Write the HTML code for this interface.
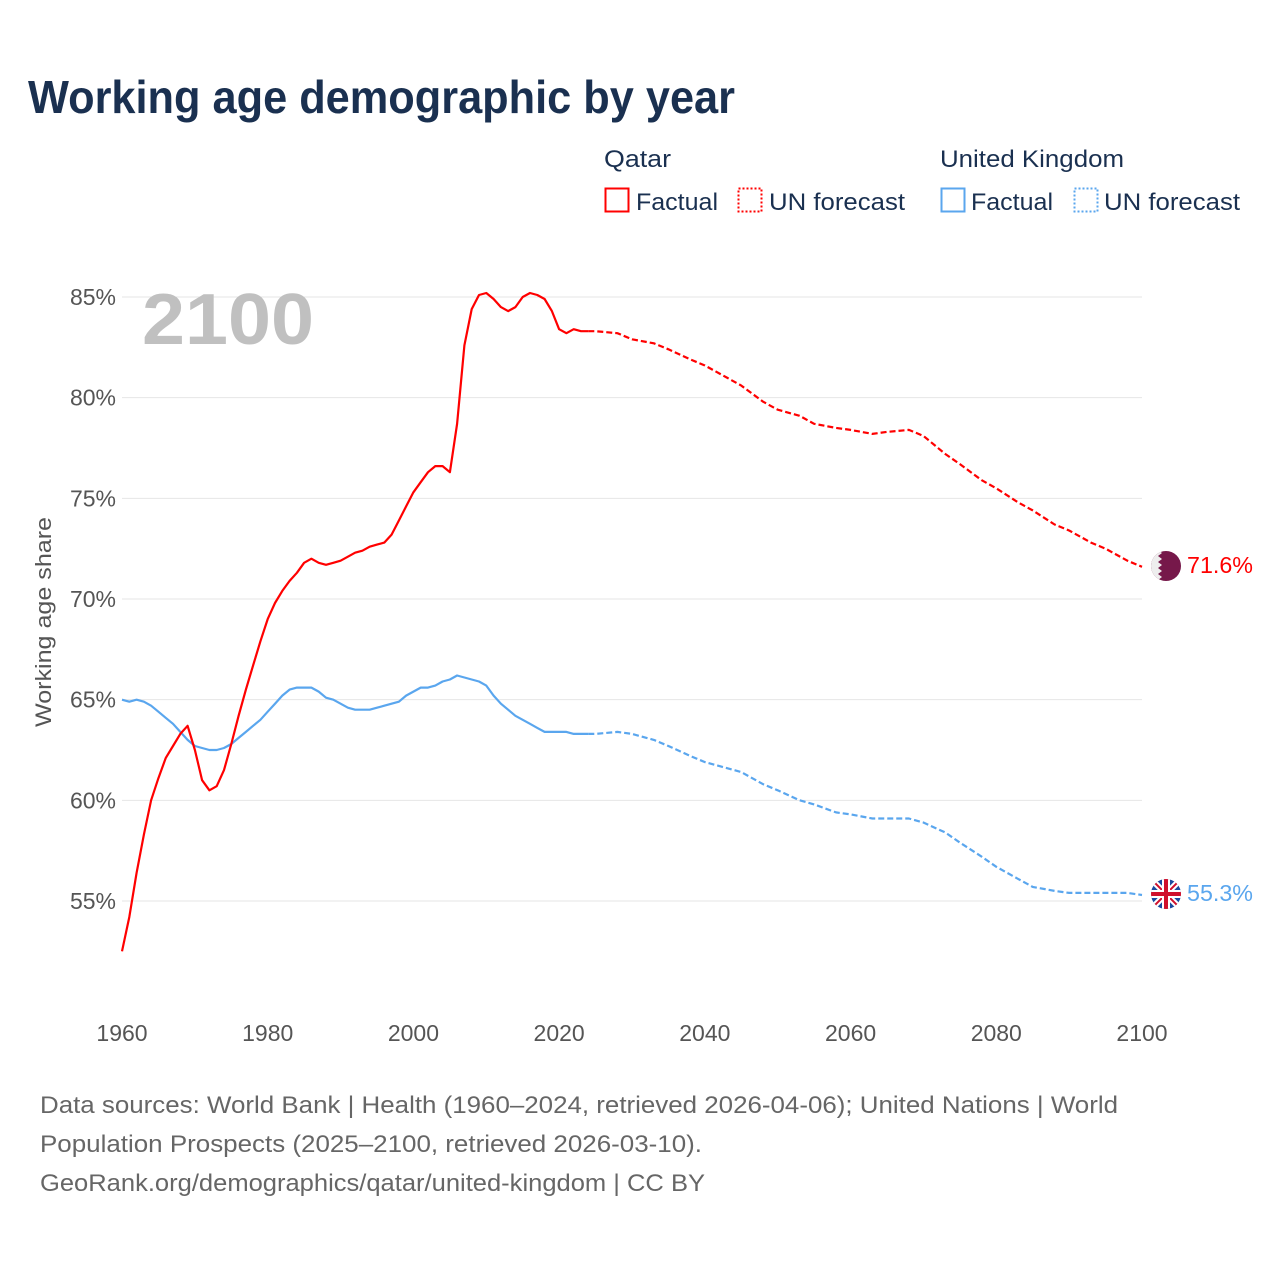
<!DOCTYPE html>
<html><head><meta charset="utf-8">
<style>
html,body{margin:0;padding:0;background:#fff;}
svg{display:block;font-family:"Liberation Sans",sans-serif;}
</style></head>
<body>
<svg id="chart" width="1280" height="1280" viewBox="0 0 1280 1280" xmlns="http://www.w3.org/2000/svg">
<text x="28" y="113" font-size="46" font-weight="bold" fill="#1a3050" textLength="707" lengthAdjust="spacingAndGlyphs">Working age demographic by year</text>
<g font-size="24" fill="#1a3050">
<text x="604" y="167" textLength="67" lengthAdjust="spacingAndGlyphs">Qatar</text>
<text x="940" y="167" textLength="184" lengthAdjust="spacingAndGlyphs">United Kingdom</text>
<g><rect x="605.5" y="188.5" width="23" height="23" fill="none" stroke="#ff0000" stroke-width="2"/><text x="636" y="210" textLength="82" lengthAdjust="spacingAndGlyphs">Factual</text></g>
<g><rect x="738.5" y="188.5" width="23" height="23" fill="none" stroke="#ff0000" stroke-width="2" stroke-dasharray="2,2"/><text x="769" y="210" textLength="136" lengthAdjust="spacingAndGlyphs">UN forecast</text></g>
<g><rect x="941.5" y="188.5" width="23" height="23" fill="none" stroke="#5aa6ee" stroke-width="2"/><text x="971" y="210" textLength="82" lengthAdjust="spacingAndGlyphs">Factual</text></g>
<g><rect x="1074.5" y="188.5" width="23" height="23" fill="none" stroke="#5aa6ee" stroke-width="2" stroke-dasharray="2,2"/><text x="1104" y="210" textLength="136" lengthAdjust="spacingAndGlyphs">UN forecast</text></g>
</g>
<g id="grid"></g>
<g id="yticks" font-size="23" fill="#555" text-anchor="end"></g>
<g id="xticks" font-size="23" fill="#555" text-anchor="middle"></g>
<text x="142" y="344" font-size="72" font-weight="bold" fill="#c0c0c0" textLength="172" lengthAdjust="spacingAndGlyphs">2100</text>
<text transform="translate(51,622) rotate(-90)" text-anchor="middle" font-size="22" fill="#555" textLength="210" lengthAdjust="spacingAndGlyphs">Working age share</text>
<g id="series"></g>
<g>
<clipPath id="cq"><circle cx="1166" cy="566" r="15"/></clipPath>
<g clip-path="url(#cq)"><rect x="1150" y="550" width="32" height="32" fill="#76184a"/><polygon points="1150,550 1158,550 1162,553 1158,556 1162,559 1158,562 1162,565 1158,568 1162,571 1158,574 1162,577 1158,580 1158,582 1150,582" fill="#eee"/></g>
</g>
<text x="1187" y="573" font-size="23" fill="#ff0000" textLength="66" lengthAdjust="spacingAndGlyphs">71.6%</text>
<g>
<clipPath id="cu"><circle cx="1166" cy="894" r="15"/></clipPath>
<g clip-path="url(#cu)"><rect x="1150" y="878" width="32" height="32" fill="#1a4aa0"/><path d="M1150,878 L1182,910 M1182,878 L1150,910" stroke="#fff" stroke-width="6"/><path d="M1150,878 L1182,910 M1182,878 L1150,910" stroke="#d0102c" stroke-width="2"/><path d="M1166,878 V910 M1150,894 H1182" stroke="#fff" stroke-width="8"/><path d="M1166,878 V910 M1150,894 H1182" stroke="#d0102c" stroke-width="4"/></g>
</g>
<text x="1187" y="901" font-size="23" fill="#5aa6ee" textLength="66" lengthAdjust="spacingAndGlyphs">55.3%</text>
<g font-size="24" fill="#666">
<text x="40" y="1113" textLength="1078" lengthAdjust="spacingAndGlyphs">Data sources: World Bank | Health (1960–2024, retrieved 2026-04-06); United Nations | World</text>
<text x="40" y="1152" textLength="662" lengthAdjust="spacingAndGlyphs">Population Prospects (2025–2100, retrieved 2026-03-10).</text>
<text x="40" y="1191" textLength="665" lengthAdjust="spacingAndGlyphs">GeoRank.org/demographics/qatar/united-kingdom | CC BY</text>
</g>
</svg>
<script>
const yTicks=[55,60,65,70,75,80,85];
const xTicks=[1960,1980,2000,2020,2040,2060,2080,2100];
const qatarYears=[1960,1961,1962,1963,1964,1965,1966,1967,1968,1969,1970,1971,1972,1973,1974,1975,1976,1977,1978,1979,1980,1981,1982,1983,1984,1985,1986,1987,1988,1989,1990,1991,1992,1993,1994,1995,1996,1997,1998,1999,2000,2001,2002,2003,2004,2005,2006,2007,2008,2009,2010,2011,2012,2013,2014,2015,2016,2017,2018,2019,2020,2021,2022,2023,2024];
const qatarFactual=[52.5,54.2,56.4,58.3,60.0,61.1,62.1,62.7,63.3,63.7,62.5,61.0,60.5,60.7,61.5,62.8,64.2,65.5,66.7,67.9,69.0,69.8,70.4,70.9,71.3,71.8,72.0,71.8,71.7,71.8,71.9,72.1,72.3,72.4,72.6,72.7,72.8,73.2,73.9,74.6,75.3,75.8,76.3,76.6,76.6,76.3,78.7,82.6,84.4,85.1,85.2,84.9,84.5,84.3,84.5,85.0,85.2,85.1,84.9,84.3,83.4,83.2,83.4,83.3,83.3];
const ukFactual=[65.0,64.9,65.0,64.9,64.7,64.4,64.1,63.8,63.4,63.0,62.7,62.6,62.5,62.5,62.6,62.8,63.1,63.4,63.7,64.0,64.4,64.8,65.2,65.5,65.6,65.6,65.6,65.4,65.1,65.0,64.8,64.6,64.5,64.5,64.5,64.6,64.7,64.8,64.9,65.2,65.4,65.6,65.6,65.7,65.9,66.0,66.2,66.1,66.0,65.9,65.7,65.2,64.8,64.5,64.2,64.0,63.8,63.6,63.4,63.4,63.4,63.4,63.3,63.3,63.3];
const forecastYears=[2024,2025,2028,2030,2033,2035,2038,2040,2043,2045,2048,2050,2053,2055,2058,2060,2063,2065,2068,2070,2073,2075,2078,2080,2083,2085,2088,2090,2093,2095,2098,2100];
const qatarForecast=[83.3,83.3,83.2,82.9,82.7,82.4,81.9,81.6,81.0,80.6,79.8,79.4,79.1,78.7,78.5,78.4,78.2,78.3,78.4,78.1,77.2,76.7,75.9,75.5,74.8,74.4,73.7,73.4,72.8,72.5,71.9,71.6];
const ukForecast=[63.3,63.3,63.4,63.3,63.0,62.7,62.2,61.9,61.6,61.4,60.8,60.5,60.0,59.8,59.4,59.3,59.1,59.1,59.1,58.9,58.4,57.9,57.2,56.7,56.1,55.7,55.5,55.4,55.4,55.4,55.4,55.3];

const NS="http://www.w3.org/2000/svg";
const xS=y=>122+(y-1960)*(1020/140);
const yS=v=>297+(85-v)*(604/30);
function mk(t,a,p){const e=document.createElementNS(NS,t);for(const k in a)e.setAttribute(k,a[k]);p.appendChild(e);return e;}
const grid=document.getElementById('grid'),yt=document.getElementById('yticks'),xt=document.getElementById('xticks'),ser=document.getElementById('series');
yTicks.forEach(v=>{
  const l=mk('line',{x1:122,x2:1142,y1:yS(v),y2:yS(v),stroke:'#e6e6e6','stroke-width':1},grid);
  
  
  const t=mk('text',{x:116,y:yS(v)+8},yt);t.textContent=v+'%';
  
  
});
xTicks.forEach(y=>{
  const t=mk('text',{x:xS(y),y:1041},xt);t.textContent=y;
  
  
});
function line(xs,vs,color,dash,name){
  const d=xs.map((x,i)=>(i?'L':'M')+xS(x).toFixed(1)+','+yS(vs[i]).toFixed(1)).join(' ');
  const a={d:d,fill:'none',stroke:color,'stroke-width':2.2,'stroke-linejoin':'round'};
  if(dash)a['stroke-dasharray']='6,3';
  const p=mk('path',a,ser);
  
  
}
line(forecastYears,ukForecast,'#5aa6ee',true,'uk-forecast-line');
line(qatarYears,ukFactual,'#5aa6ee',false,'uk-factual-line');
line(forecastYears,qatarForecast,'#ff0000',true,'qatar-forecast-line');
line(qatarYears,qatarFactual,'#ff0000',false,'qatar-factual-line');
</script>
</body></html>
